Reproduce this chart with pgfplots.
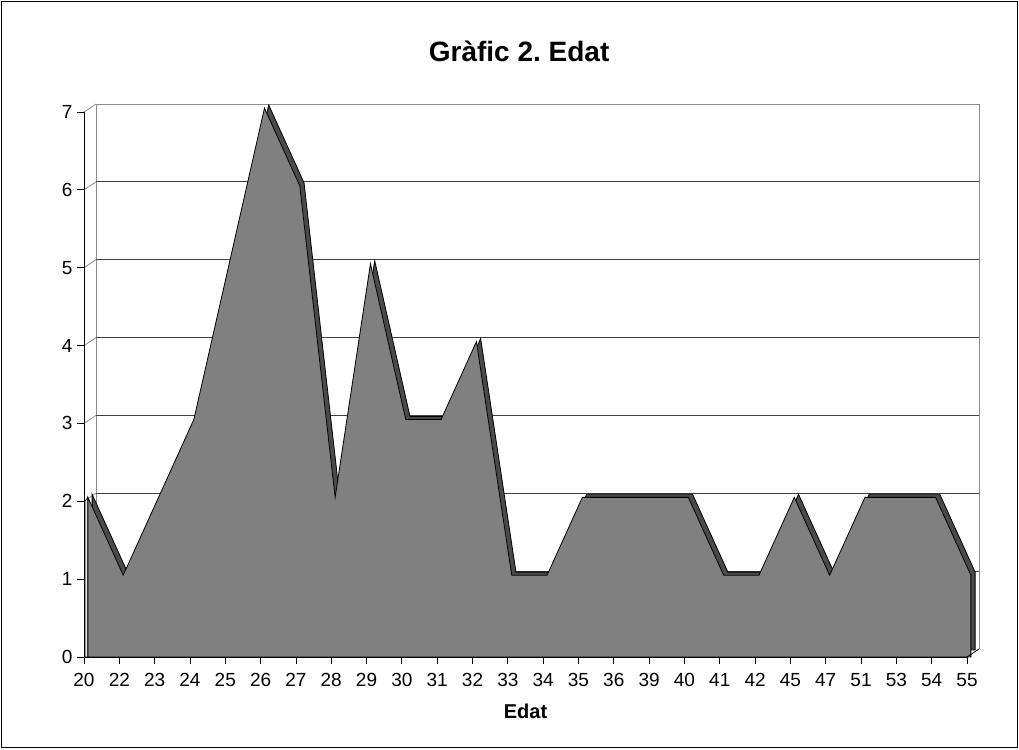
\documentclass[border=0pt]{standalone}
\usepackage{fontspec}
\setmainfont{Liberation Sans}
\usepackage{pgfplots}
\usepackage{pgfplotstable}
\pgfplotsset{compat=1.18}
\definecolor{areagris}{HTML}{808080}
\definecolor{cimagris}{HTML}{4A4A4A}
\definecolor{murgris}{HTML}{8C8C8C}

% Edat (posicio de la categoria) i nombre de persones
\pgfplotstableread{
i v
0 2
1 1
2 2
3 3
4 5
5 7
6 6
7 2
8 5
9 3
10 3
11 4
12 1
13 1
14 2
15 2
16 2
17 2
18 1
19 1
20 2
21 1
22 2
23 2
24 2
25 1
}\edat

\begin{document}
\frenchspacing
\begin{tikzpicture}
\useasboundingbox (0,0) rectangle (1019pt,749pt);
\draw[line width=1.6pt] (1.5pt,1.5pt) rectangle (1017.5pt,747.5pt);
\begin{axis}[
    at={(84pt,92pt)}, anchor=south west,
    width=883pt, height=545pt, scale only axis,
    xmin=0, xmax=25, ymin=0, ymax=7,
    clip=false, axis on top,
    axis x line*=bottom, axis y line*=left,
    axis line style={black, line width=0.8pt, -},
    xtick={0,...,25},
    xticklabels={20,22,23,24,25,26,27,28,29,30,31,32,33,34,35,36,39,40,41,42,45,47,51,53,54,55},
    ytick={0,...,7},
    tick align=outside, major tick length=7pt,
    tick style={black, line width=0.8pt},
    /pgf/number format/assume math mode=true,
    tick label style={font=\fontsize{19}{19}\selectfont},
    xticklabel style={yshift=-6pt},
    yticklabel style={xshift=-1pt},
    xlabel={Edat},
    xlabel style={font=\fontsize{20}{20}\selectfont\bfseries,
                  at={(axis cs:12.5,0)}, anchor=center, yshift=-54pt},
    title={Gràfic 2. Edat},
    title style={font=\fontsize{28}{28}\selectfont\bfseries,
                 at={(axis cs:12.32,7)}, anchor=center, yshift=55pt},
]
% mur del fons i linies de quadricula
\draw[murgris, line width=0.8pt] (axis cs:0.34,0.103) -- (axis cs:0.34,7.103)
    -- (axis cs:25.34,7.103) -- (axis cs:25.34,0.103);
\pgfplotsinvokeforeach{1,...,6}{
    \draw[black!75, line width=0.7pt] (axis cs:0.34,#1.103) -- (axis cs:25.34,#1.103);
}
\pgfplotsinvokeforeach{0,...,7}{
    \draw[murgris, line width=0.8pt] (axis cs:0,#1) -- (axis cs:0.34,#1.103);
}
% cara superior (profunditat de l'area)
\addplot[fill=cimagris, draw=black, line width=0.8pt]
    table[x expr=\thisrow{i}+0.23, y expr=\thisrow{v}+0.09] {\edat}
    -- (axis cs:25.23,0.09) -- (axis cs:0.23,0.09) -- cycle;
% cara lateral esquerra
\filldraw[fill=black!8, draw=black, line width=0.6pt]
    (axis cs:0.03,0) -- (axis cs:0.03,2.0) -- (axis cs:0.11,2.05) -- (axis cs:0.11,0) -- cycle;
% cara frontal
\addplot[fill=areagris, draw=black, line width=0.8pt]
    table[x expr=\thisrow{i}+0.11, y expr=\thisrow{v}+0.05] {\edat} \closedcycle;
\draw[black, line width=0.8pt] (axis cs:25,0) -- (axis cs:25.34,0.103);
\end{axis}
\end{tikzpicture}
\end{document}
